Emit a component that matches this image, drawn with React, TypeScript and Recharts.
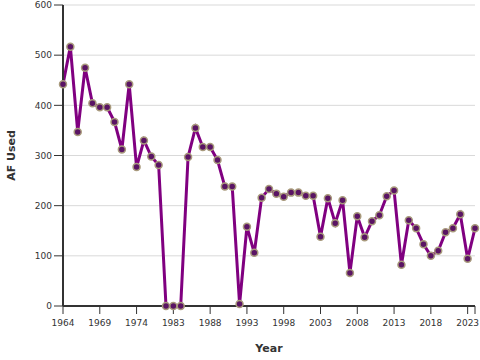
import { LineChart, Line, XAxis, YAxis, CartesianGrid } from 'recharts'

const years = [
  '1964', '1965', '1966', '1967', '1968', '1969', '1970', '1971', '1972', '1973', '1974',
  '1975', '1977', '1980', '1982', '1983', '1984', '1985', '1986', '1987', '1988',
  '1989', '1990', '1991', '1992', '1993', '1994', '1995', '1996', '1997', '1998',
  '1999', '2000', '2001', '2002', '2003', '2004', '2005', '2006', '2007', '2008',
  '2009', '2010', '2011', '2012', '2013', '2014', '2015', '2016', '2017', '2018',
  '2019', '2020', '2021', '2022', '2023', '2024',
]

const afUsed = [
  442, 517, 347, 475, 404, 396, 396, 367, 312, 442, 277,
  330, 298, 281, 0, 0, 0, 297, 355, 317, 317,
  291, 238, 238, 4, 158, 106, 216, 233, 224, 218,
  226, 226, 220, 220, 138, 215, 165, 211, 66, 179,
  137, 169, 181, 219, 230, 82, 171, 155, 123, 100,
  110, 147, 155, 183, 94, 155,
]

const xTicks = ['1964', '1969', '1974', '1983', '1988', '1993', '1998', '2003', '2008', '2013', '2018', '2023', '2024']
const yTicks = [0, 100, 200, 300, 400, 500, 600]

const data = years.map((y, i) => ({ year: y, af: afUsed[i] }))

const axisColor = '#333'
const tickStyle = { fill: '#333', fontSize: 9, fontFamily: 'DejaVu Sans' }

export default function App() {
  return (
    <div style={{ position: 'absolute', left: 0, top: 0 }}>
      <LineChart
        width={480}
        height={360}
        data={data}
        margin={{ top: 5, right: 5, left: 0, bottom: 0 }}
      >
        <CartesianGrid vertical={false} stroke="#d9d9d9" />
        <XAxis
          dataKey="year"
          ticks={xTicks}
          interval={0}
          tickFormatter={v => (v === '2024' ? '' : v)}
          tick={tickStyle}
          tickLine={{ stroke: axisColor }}
          tickSize={8}
          tickMargin={6}
          axisLine={{ stroke: axisColor, strokeWidth: 2 }}
          height={54}
          label={{
            value: 'Year',
            position: 'insideBottom',
            offset: 8,
            style: { fill: '#333', fontSize: 11, fontWeight: 'bold', fontFamily: 'DejaVu Sans' },
          }}
        />
        <XAxis
          xAxisId="top"
          dataKey="year"
          orientation="top"
          height={0}
          tick={false}
          tickLine={false}
          axisLine={{ stroke: axisColor, strokeWidth: 2 }}
        />
        <YAxis
          domain={[0, 600]}
          ticks={yTicks}
          tick={tickStyle}
          tickLine={{ stroke: axisColor }}
          tickSize={9}
          tickMargin={2}
          axisLine={{ stroke: axisColor, strokeWidth: 2 }}
          width={63}
          label={{
            value: 'AF Used',
            angle: -90,
            position: 'insideLeft',
            offset: 11,
            style: { fill: '#333', fontSize: 11, fontWeight: 'bold', fontFamily: 'DejaVu Sans', textAnchor: 'middle' },
          }}
        />
        <YAxis
          yAxisId="right"
          orientation="right"
          domain={[0, 600]}
          width={0}
          tick={false}
          tickLine={false}
          axisLine={{ stroke: axisColor, strokeWidth: 2 }}
        />
        <Line
          type="linear"
          dataKey="af"
          stroke="#800080"
          strokeWidth={3}
          dot={{ r: 3.5, fill: '#5a1464', stroke: '#a89a7c', strokeWidth: 1.5 }}
          isAnimationActive={false}
        />
      </LineChart>
    </div>
  )
}
